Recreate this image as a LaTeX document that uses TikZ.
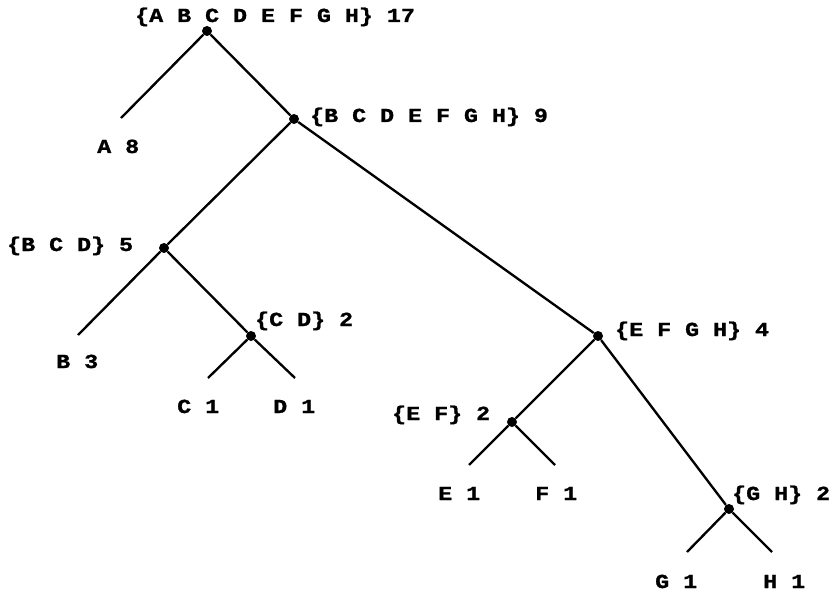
\documentclass[tikz,border=0pt]{standalone}
\usepackage{fontspec}
\setmonofont{Liberation Mono}[FakeStretch=1.17, BoldFeatures={FakeBold=1.2}]

\begin{document}
\begin{tikzpicture}[
    x=0.03cm, y=-0.03cm,
    split/.style={circle, fill=black, inner sep=0pt, minimum size=0.3cm},
    lbl/.style={anchor=base west, inner sep=0pt, font=\ttfamily\bfseries\fontsize{17}{20}\selectfont},
    edge/.style={line width=2pt}
]
\useasboundingbox (0,0) rectangle (831,591);

% Split points
\node (abcdefgh) [split] at (207,31) {};
\node (bcdefgh) [split] at (294,119) {};
\node (bcd) [split] at (164,248) {};
\node (cd) [split] at (251,336) {};
\node (efgh) [split] at (598,336) {};
\node (ef) [split] at (512,422) {};
\node (gh) [split] at (729,509) {};

% Leaf ends
\coordinate (a) at (121,118);
\coordinate (b) at (78,335);
\coordinate (c) at (208,378);
\coordinate (d) at (295,378);
\coordinate (e) at (469,465);
\coordinate (f) at (555,465);
\coordinate (g) at (687,552);
\coordinate (h) at (772,552);

% Set labels
\node (labcdefgh) [lbl] at (135,22) {\{A B C D E F G H\} 17};
\node (lbcdefgh) [lbl] at (310,122) {\{B C D E F G H\} 9};
\node (lbcd) [lbl] at (7,251) {\{B C D\} 5};
\node (lcd) [lbl] at (255,326) {\{C D\} 2};
\node (lefgh) [lbl] at (615,336) {\{E F G H\} 4};
\node (lef) [lbl] at (392,420) {\{E F\} 2};
\node (lgh) [lbl] at (732,500) {\{G H\} 2};

% Leaf labels
\node (la) [lbl] at (97,153) {A 8};
\node (lb) [lbl] at (56,368) {B 3};
\node (lc) [lbl] at (177,413) {C 1};
\node (ld) [lbl] at (273,413) {D 1};
\node (le) [lbl] at (438,500) {E 1};
\node (lf) [lbl] at (535,500) {F 1};
\node (lg) [lbl] at (655,588) {G 1};
\node (lh) [lbl] at (763,588) {H 1};

% Branches
\draw [edge] (abcdefgh) -- (a);
\draw [edge] (abcdefgh) -- (bcdefgh);
\draw [edge] (bcdefgh) -- (bcd);
\draw [edge] (bcdefgh) -- (efgh);
\draw [edge] (bcd) -- (b);
\draw [edge] (bcd) -- (cd);
\draw [edge] (cd) -- (c);
\draw [edge] (cd) -- (d);
\draw [edge] (efgh) -- (ef);
\draw [edge] (efgh) -- (gh);
\draw [edge] (ef) -- (e);
\draw [edge] (ef) -- (f);
\draw [edge] (gh) -- (g);
\draw [edge] (gh) -- (h);

\end{tikzpicture}
\end{document}
